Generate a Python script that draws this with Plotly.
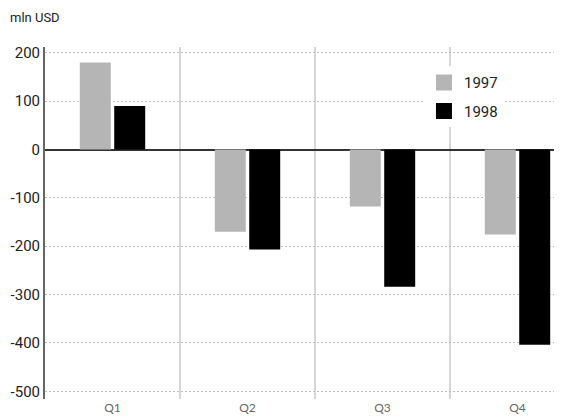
import plotly.graph_objects as go

quarters = ["Q1", "Q2", "Q3", "Q4"]
values_1997 = [180, -170, -118, -176]
values_1998 = [90, -207, -284, -404]
y_ticks = [200, 100, 0, -100, -200, -300, -400, -500]
y_tick_labels = [str(v) for v in y_ticks]  # plain hyphen-minus, as in the reference

x_pos = list(range(len(quarters)))
GRAY = "#b4b5b4"
BLACK = "#000000"

fig = go.Figure()
fig.add_trace(go.Bar(x=x_pos, y=values_1997, name="1997", marker=dict(color=GRAY, line_width=0), showlegend=False))
fig.add_trace(go.Bar(x=x_pos, y=values_1998, name="1998", marker=dict(color=BLACK, line_width=0), showlegend=False))
# legend proxies with bigger squares
fig.add_trace(go.Scatter(x=[None], y=[None], mode="markers", name="1997",
                         marker=dict(symbol="square", size=16, color=GRAY), legendgroup="a"))
fig.add_trace(go.Scatter(x=[None], y=[None], mode="markers", name="1998",
                         marker=dict(symbol="square", size=16, color=BLACK), legendgroup="b"))

# category separators
for i in range(len(quarters) - 1):
    fig.add_shape(type="line", xref="x", yref="paper", x0=i + 0.5, x1=i + 0.5, y0=0, y1=1,
                  line=dict(color="#c8c8c8", width=1.5), layer="below")

# page body has an 8px default margin, so the figure is sized to fill the rest of the window
W, H = 554, 410
fig.update_layout(
    width=W, height=H,
    margin=dict(l=37, r=0, t=39, b=19),
    paper_bgcolor="white", plot_bgcolor="white",
    barmode="group", bargap=0.49, bargroupgap=0.1,
    font=dict(family="Roboto", size=15, color="#222"),
    title=dict(text="mln USD", x=2 / W, xanchor="left", xref="container",
               y=1 - 9 / H, yanchor="middle", yref="container",
               font=dict(family="Roboto", size=13, color="#222")),
    legend=dict(x=0.733, y=0.945, xanchor="left", yanchor="top", bgcolor="white",
                font=dict(family="Roboto", size=15, color="#222"), tracegroupgap=6),
    xaxis=dict(range=[-0.5, -0.5 + 517 / 135], tickvals=x_pos, ticktext=quarters,
               showgrid=False, zeroline=False, showline=False, ticks="", automargin=False,
               tickfont=dict(family="Lato", size=12, color="#666")),
    yaxis=dict(range=[-516, 212], tickvals=y_ticks, ticktext=y_tick_labels,
               showgrid=True, gridcolor="#c0c0c0",
               griddash="2px,2px", gridwidth=1, zeroline=True, zerolinecolor="#333", zerolinewidth=1.5,
               showline=True, linecolor="#666", linewidth=2, ticks="", automargin=False,
               tickfont=dict(family="Roboto", size=15, color="#222")),
)

fig.write_html("out.html")
